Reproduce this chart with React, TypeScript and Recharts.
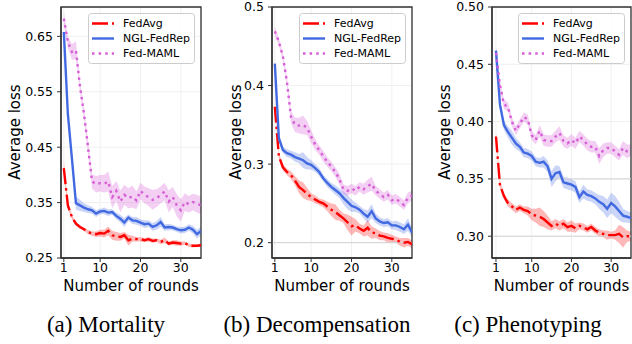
import { Area, CartesianGrid, ComposedChart, Line, ReferenceArea, ReferenceLine, XAxis, YAxis } from 'recharts';

const rounds = [1, 2, 3, 4, 5, 6, 7, 8, 9, 10, 11, 12, 13, 14, 15, 16, 17, 18, 19, 20, 21, 22, 23, 24, 25, 26, 27, 28, 29, 30, 31, 32, 33, 34, 35];
const roundTicks = [1, 10, 20, 30];

// (a) Mortality
const mortalityFedAvg = [0.412, 0.345, 0.324, 0.312, 0.306, 0.302, 0.297, 0.294, 0.293, 0.295, 0.294, 0.299, 0.291, 0.289, 0.288, 0.291, 0.282, 0.285, 0.284, 0.284, 0.282, 0.284, 0.281, 0.282, 0.279, 0.282, 0.276, 0.278, 0.277, 0.276, 0.277, 0.273, 0.272, 0.272, 0.273];
const mortalityFedAvgBand = [0.014, 0.006, 0.004, 0.004, 0.003, 0.003, 0.004, 0.004, 0.005, 0.006, 0.007, 0.008, 0.008, 0.008, 0.007, 0.006, 0.010, 0.005, 0.004, 0.004, 0.003, 0.004, 0.004, 0.003, 0.004, 0.005, 0.004, 0.004, 0.005, 0.004, 0.003, 0.003, 0.003, 0.002, 0.003];
const mortalityNgl = [0.658, 0.51, 0.43, 0.349, 0.345, 0.341, 0.338, 0.336, 0.330, 0.334, 0.335, 0.332, 0.333, 0.326, 0.321, 0.314, 0.323, 0.318, 0.317, 0.314, 0.311, 0.312, 0.306, 0.309, 0.315, 0.305, 0.306, 0.305, 0.302, 0.300, 0.301, 0.305, 0.301, 0.293, 0.299];
const mortalityNglBand = [0.004, 0.008, 0.010, 0.012, 0.010, 0.008, 0.007, 0.006, 0.006, 0.005, 0.006, 0.006, 0.005, 0.006, 0.007, 0.008, 0.006, 0.006, 0.007, 0.006, 0.007, 0.006, 0.007, 0.008, 0.009, 0.006, 0.006, 0.005, 0.005, 0.006, 0.006, 0.006, 0.007, 0.008, 0.008];
const mortalityMaml = [0.682, 0.640, 0.622, 0.625, 0.560, 0.510, 0.450, 0.388, 0.383, 0.385, 0.384, 0.388, 0.360, 0.371, 0.352, 0.364, 0.358, 0.361, 0.354, 0.371, 0.364, 0.360, 0.355, 0.358, 0.364, 0.370, 0.352, 0.360, 0.345, 0.336, 0.351, 0.347, 0.351, 0.348, 0.345];
const mortalityMamlBand = [0.012, 0.010, 0.014, 0.016, 0.010, 0.010, 0.012, 0.013, 0.015, 0.015, 0.016, 0.018, 0.020, 0.018, 0.020, 0.018, 0.018, 0.020, 0.016, 0.015, 0.015, 0.016, 0.018, 0.016, 0.015, 0.016, 0.020, 0.018, 0.020, 0.020, 0.016, 0.015, 0.015, 0.016, 0.016];
const mortalityTicks = [0.25, 0.35, 0.45, 0.55, 0.65];

// (b) Decompensation
const decompFedAvg = [0.373, 0.310, 0.296, 0.290, 0.286, 0.279, 0.271, 0.267, 0.262, 0.258, 0.255, 0.252, 0.250, 0.246, 0.242, 0.239, 0.235, 0.231, 0.226, 0.221, 0.222, 0.218, 0.215, 0.219, 0.213, 0.212, 0.209, 0.208, 0.206, 0.205, 0.204, 0.201, 0.200, 0.201, 0.198];
const decompFedAvgBand = [0.004, 0.004, 0.004, 0.004, 0.005, 0.006, 0.008, 0.010, 0.008, 0.005, 0.005, 0.004, 0.005, 0.006, 0.008, 0.010, 0.007, 0.006, 0.010, 0.012, 0.008, 0.006, 0.007, 0.010, 0.008, 0.006, 0.006, 0.005, 0.006, 0.005, 0.004, 0.005, 0.006, 0.005, 0.005];
const decompNgl = [0.428, 0.333, 0.318, 0.314, 0.312, 0.309, 0.307, 0.305, 0.301, 0.299, 0.295, 0.290, 0.282, 0.276, 0.271, 0.267, 0.263, 0.257, 0.252, 0.247, 0.245, 0.242, 0.237, 0.233, 0.240, 0.231, 0.227, 0.225, 0.226, 0.222, 0.222, 0.220, 0.217, 0.223, 0.213];
const decompNglBand = [0.004, 0.004, 0.004, 0.005, 0.005, 0.006, 0.006, 0.010, 0.008, 0.006, 0.005, 0.005, 0.004, 0.005, 0.005, 0.006, 0.006, 0.008, 0.009, 0.008, 0.006, 0.005, 0.006, 0.008, 0.009, 0.006, 0.005, 0.005, 0.005, 0.005, 0.006, 0.006, 0.006, 0.008, 0.006];
const decompMaml = [0.469, 0.456, 0.437, 0.405, 0.360, 0.350, 0.349, 0.350, 0.346, 0.335, 0.325, 0.318, 0.310, 0.303, 0.297, 0.290, 0.281, 0.268, 0.266, 0.269, 0.266, 0.271, 0.268, 0.272, 0.275, 0.266, 0.262, 0.258, 0.261, 0.254, 0.256, 0.252, 0.248, 0.257, 0.260];
const decompMamlBand = [0.006, 0.005, 0.005, 0.006, 0.008, 0.009, 0.010, 0.012, 0.009, 0.008, 0.007, 0.006, 0.007, 0.006, 0.006, 0.006, 0.007, 0.006, 0.006, 0.006, 0.006, 0.006, 0.007, 0.008, 0.009, 0.006, 0.006, 0.006, 0.006, 0.006, 0.006, 0.006, 0.006, 0.007, 0.006];
const decompTicks = [0.2, 0.3, 0.4, 0.5];

// (c) Phenotyping
const phenoFedAvg = [0.387, 0.345, 0.335, 0.329, 0.326, 0.323, 0.325, 0.323, 0.322, 0.319, 0.318, 0.317, 0.315, 0.312, 0.309, 0.311, 0.309, 0.311, 0.308, 0.309, 0.307, 0.309, 0.308, 0.306, 0.308, 0.305, 0.303, 0.302, 0.301, 0.301, 0.301, 0.302, 0.299, 0.300, 0.300];
const phenoFedAvgBand = [0.004, 0.003, 0.003, 0.003, 0.003, 0.003, 0.003, 0.003, 0.004, 0.005, 0.006, 0.008, 0.007, 0.006, 0.004, 0.004, 0.004, 0.004, 0.004, 0.005, 0.004, 0.003, 0.003, 0.003, 0.003, 0.003, 0.003, 0.003, 0.004, 0.003, 0.004, 0.008, 0.009, 0.005, 0.004];
const phenoNgl = [0.462, 0.415, 0.397, 0.391, 0.386, 0.381, 0.378, 0.373, 0.372, 0.370, 0.365, 0.364, 0.365, 0.361, 0.350, 0.355, 0.356, 0.347, 0.346, 0.345, 0.343, 0.334, 0.339, 0.336, 0.335, 0.333, 0.330, 0.328, 0.324, 0.329, 0.326, 0.322, 0.318, 0.317, 0.316];
const phenoNglBand = [0.003, 0.004, 0.004, 0.005, 0.006, 0.005, 0.004, 0.004, 0.004, 0.004, 0.004, 0.004, 0.005, 0.005, 0.007, 0.007, 0.005, 0.005, 0.005, 0.005, 0.005, 0.005, 0.006, 0.005, 0.005, 0.005, 0.006, 0.007, 0.008, 0.009, 0.009, 0.008, 0.006, 0.005, 0.005];
const phenoMaml = [0.460, 0.432, 0.415, 0.413, 0.400, 0.392, 0.398, 0.404, 0.402, 0.388, 0.384, 0.392, 0.384, 0.383, 0.383, 0.387, 0.390, 0.383, 0.381, 0.384, 0.381, 0.387, 0.384, 0.380, 0.378, 0.378, 0.370, 0.375, 0.377, 0.377, 0.374, 0.371, 0.377, 0.374, 0.375];
const phenoMamlBand = [0.004, 0.004, 0.004, 0.004, 0.004, 0.004, 0.004, 0.004, 0.004, 0.004, 0.004, 0.005, 0.005, 0.005, 0.005, 0.005, 0.006, 0.005, 0.005, 0.005, 0.005, 0.005, 0.005, 0.005, 0.005, 0.005, 0.007, 0.006, 0.005, 0.005, 0.005, 0.005, 0.006, 0.006, 0.005];
const phenoTicks = [0.3, 0.35, 0.4, 0.45, 0.5];

const RED = '#ff0000';
const BLUE = '#4169e1';
const PINK = '#d65fd6';
const FONT = '"DejaVu Sans", sans-serif';
const AXIS = '#333333';

const redDash = '16 4 2.5 4';
const pinkDots = '2.5 4.1';

function buildRows(avg: number[], avgBand: number[], ngl: number[], nglBand: number[], maml: number[], mamlBand: number[]) {
  return rounds.map((round, i) => ({
    round,
    avg: avg[i],
    avgRange: [avg[i] - avgBand[i], avg[i] + avgBand[i]],
    ngl: ngl[i],
    nglRange: [ngl[i] - nglBand[i], ngl[i] + nglBand[i]],
    maml: maml[i],
    mamlRange: [maml[i] - mamlBand[i], maml[i] + mamlBand[i]],
  }));
}

function LegendBox({ left }: { left: number }) {
  const rows = [
    { name: 'FedAvg', color: RED, dash: redDash },
    { name: 'NGL-FedRep', color: BLUE, dash: undefined },
    { name: 'Fed-MAML', color: PINK, dash: pinkDots },
  ];
  return (
    <svg width={107} height={51} style={{ position: 'absolute', left, top: 13 }}>
      <rect x={0.5} y={0.5} width={106} height={50} rx={3} fill="rgba(255,255,255,0.8)" stroke="#cccccc" />
      {rows.map((r, i) => (
        <g key={r.name}>
          <line x1={4} x2={26} y1={10.5 + i * 15} y2={10.5 + i * 15} stroke={r.color} strokeWidth={2.4} strokeDasharray={r.dash} />
          <text x={35} y={10.5 + i * 15} dy="0.35em" fontSize={11} fontFamily={FONT} fill="#000">
            {r.name}
          </text>
        </g>
      ))}
    </svg>
  );
}

interface PanelProps {
  left: number;
  width: number;
  yWidth: number;
  marginRight: number;
  xDomain: [number, number];
  yDomain: [number, number];
  yTicks: number[];
  digits: number;
  strongLines: number[];
  yLabelX: number;
  caption: string;
  captionX: number;
  rows: ReturnType<typeof buildRows>;
}

function Panel(p: PanelProps) {
  const plotLeft = p.left + p.yWidth;
  const plotRight = p.left + p.width - p.marginRight;
  const tick = { fontSize: 12.5, fill: '#000', fontFamily: FONT };
  return (
    <>
      <div style={{ position: 'absolute', left: p.left, top: 0 }}>
        <ComposedChart width={p.width} height={300} data={p.rows} margin={{ top: 7, right: p.marginRight, bottom: 12, left: 0 }}>
          <CartesianGrid stroke="#f0f0f0" />
          {p.strongLines.map((v) => (
            <ReferenceLine key={v} y={v} stroke="#d3d3d3" strokeWidth={1} />
          ))}
          <XAxis
            type="number"
            dataKey="round"
            domain={p.xDomain}
            ticks={roundTicks}
            allowDataOverflow
            interval={0}
            height={30}
            tickSize={4}
            tickMargin={1}
            tick={tick}
            axisLine={{ stroke: AXIS, strokeWidth: 1.3 }}
            tickLine={{ stroke: AXIS }}
          />
          <YAxis
            type="number"
            domain={p.yDomain}
            ticks={p.yTicks}
            allowDataOverflow
            interval={0}
            width={p.yWidth}
            tickSize={4}
            tickMargin={4}
            tick={tick}
            tickFormatter={(v) => Number(v).toFixed(p.digits)}
            axisLine={{ stroke: AXIS, strokeWidth: 1.3 }}
            tickLine={{ stroke: AXIS }}
          />
          <Area dataKey="avgRange" type="linear" stroke="none" fill={RED} fillOpacity={0.28} dot={false} activeDot={false} isAnimationActive={false} />
          <Line dataKey="avg" type="linear" stroke={RED} strokeWidth={2.4} strokeDasharray={redDash} dot={false} isAnimationActive={false} />
          <Area dataKey="nglRange" type="linear" stroke="none" fill={BLUE} fillOpacity={0.28} dot={false} activeDot={false} isAnimationActive={false} />
          <Line dataKey="ngl" type="linear" stroke={BLUE} strokeWidth={2.4} dot={false} isAnimationActive={false} />
          <Area dataKey="mamlRange" type="linear" stroke="none" fill={PINK} fillOpacity={0.3} dot={false} activeDot={false} isAnimationActive={false} />
          <Line dataKey="maml" type="linear" stroke={PINK} strokeWidth={2.4} strokeDasharray={pinkDots} dot={false} isAnimationActive={false} />
          <ReferenceArea x1={p.xDomain[0]} x2={p.xDomain[1]} y1={p.yDomain[0]} y2={p.yDomain[1]} fill="none" stroke={AXIS} strokeWidth={1.3} />
        </ComposedChart>
      </div>
      <LegendBox left={plotRight - 6 - 107} />
      <div
        style={{
          position: 'absolute',
          left: p.left + p.yLabelX,
          top: 132,
          transform: 'translate(-50%, -50%) rotate(-90deg)',
          whiteSpace: 'nowrap',
          fontSize: 15,
          fontFamily: FONT,
        }}
      >
        Average loss
      </div>
      <div
        style={{
          position: 'absolute',
          left: (plotLeft + plotRight) / 2,
          top: 286,
          transform: 'translate(-50%, -50%)',
          whiteSpace: 'nowrap',
          fontSize: 15,
          fontFamily: FONT,
        }}
      >
        Number of rounds
      </div>
      <div
        style={{
          position: 'absolute',
          left: p.captionX,
          top: 324,
          transform: 'translate(-50%, -50%)',
          whiteSpace: 'nowrap',
          fontSize: 23,
          lineHeight: 1,
          fontFamily: '"Liberation Serif", "Times New Roman", serif',
        }}
      >
        {p.caption}
      </div>
    </>
  );
}

export default function App() {
  return (
    <div style={{ position: 'absolute', left: 0, top: 0, width: 632, height: 344, background: '#fff', overflow: 'hidden' }}>
      <Panel
        left={0}
        width={211}
        yWidth={61}
        marginRight={10}
        xDomain={[0.3, 35]}
        yDomain={[0.25, 0.703]}
        yTicks={mortalityTicks}
        digits={2}
        strongLines={[]}
        yLabelX={15}
        caption="(a) Mortality"
        captionX={106}
        rows={buildRows(mortalityFedAvg, mortalityFedAvgBand, mortalityNgl, mortalityNglBand, mortalityMaml, mortalityMamlBand)}
      />
      <Panel
        left={211}
        width={211}
        yWidth={61}
        marginRight={10}
        xDomain={[0.3, 35]}
        yDomain={[0.1805, 0.5]}
        yTicks={decompTicks}
        digits={1}
        strongLines={[0.2]}
        yLabelX={25}
        caption="(b) Decompensation"
        captionX={317}
        rows={buildRows(decompFedAvg, decompFedAvgBand, decompNgl, decompNglBand, decompMaml, decompMamlBand)}
      />
      <Panel
        left={422}
        width={210}
        yWidth={70}
        marginRight={1}
        xDomain={[0, 35]}
        yDomain={[0.281, 0.5]}
        yTicks={phenoTicks}
        digits={2}
        strongLines={[0.3, 0.35]}
        yLabelX={23}
        caption="(c) Phenotyping"
        captionX={528}
        rows={buildRows(phenoFedAvg, phenoFedAvgBand, phenoNgl, phenoNglBand, phenoMaml, phenoMamlBand)}
      />
    </div>
  );
}
